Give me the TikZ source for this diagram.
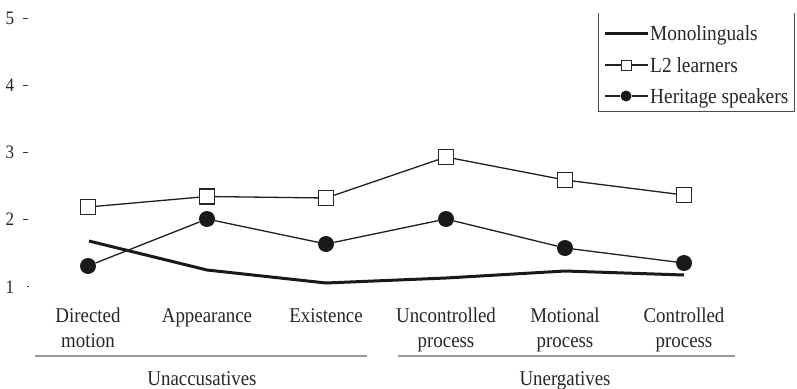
\documentclass[tikz,border=0pt]{standalone}
\usepackage{fontspec}
\setmainfont[FakeStretch=0.9]{Liberation Serif}
\begin{document}
\begin{tikzpicture}[x=1pt,y=-1pt,
  lbl/.style={font=\fontsize{21}{25}\selectfont, text=black!85, inner sep=0pt},
  leg/.style={font=\fontsize{21.5}{25}\selectfont, text=black!85, inner sep=0pt},
  axl/.style={font=\fontsize{19}{22}\selectfont, text=black!85, inner sep=0pt},
  sq/.style={rectangle, draw=black!85, fill=white, line width=1.2pt, minimum size=15pt, inner sep=0pt},
  dot/.style={circle, fill=black!90, minimum size=16pt, inner sep=0pt},
  serline/.style={draw=black!88, line width=1.3pt},
  monoline/.style={draw=black!90, line width=3pt, line join=round},
  tick/.style={draw=black!80, line width=0.8pt},
  bracket/.style={draw=black!40, line width=2pt}
]
\useasboundingbox (0,0) rectangle (797,388);

% y axis ticks and labels
\foreach \v/\yy in {5/18,4/85,3/152,2/219} {
  \draw[tick] (23,\yy) -- (28,\yy);
  \node[axl, anchor=base] (y\v) at (10,\yy+6) {\v};
}
\draw[tick] (27,286) -- (28.5,286);
\node[axl, anchor=base] (y1) at (10,293) {1};

% Monolinguals
\coordinate (m1) at (89,241);
\coordinate (m2) at (207,270);
\coordinate (m3) at (326,283);
\coordinate (m4) at (446,278);
\coordinate (m5) at (565,271);
\coordinate (m6) at (684,275);
\draw[monoline] (m1) -- (m2) -- (m3) -- (m4) -- (m5) -- (m6);

% L2 learners
\node[sq] (l1) at (88,207) {};
\node[sq] (l2) at (207,196.5) {};
\node[sq] (l3) at (326,198) {};
\node[sq] (l4) at (446,157) {};
\node[sq] (l5) at (565,180) {};
\node[sq] (l6) at (684,195) {};
\draw[serline] (l1) -- (l2) -- (l3) -- (l4) -- (l5) -- (l6);

% Heritage speakers
\node[dot] (h1) at (88,266) {};
\node[dot] (h2) at (207,219) {};
\node[dot] (h3) at (326,244) {};
\node[dot] (h4) at (446,219) {};
\node[dot] (h5) at (565,248) {};
\node[dot] (h6) at (684,263) {};
\draw[serline] (h1) -- (h2) -- (h3) -- (h4) -- (h5) -- (h6);

% category labels
\node[lbl, anchor=north, align=center] (c1) at (88,308) {Directed\\motion};
\node[lbl, anchor=north, align=center] (c2) at (207,308) {Appearance};
\node[lbl, anchor=north, align=center] (c3) at (326,308) {Existence};
\node[lbl, anchor=north, align=center] (c4) at (446,308) {Uncontrolled\\process};
\node[lbl, anchor=north, align=center] (c5) at (565,308) {Motional\\process};
\node[lbl, anchor=north, align=center] (c6) at (684,308) {Controlled\\process};

% group brackets
\coordinate (ua) at (35,356);
\coordinate (ub) at (367,356);
\coordinate (ea) at (398,356);
\coordinate (eb) at (735,356);
\draw[bracket] (ua) -- (ub);
\draw[bracket] (ea) -- (eb);
\node[lbl, anchor=base] (gu) at (202,385) {Unaccusatives};
\node[lbl, anchor=base] (ge) at (565,385) {Unergatives};

% legend
\coordinate (lgA) at (598,13);
\coordinate (lgB) at (598,111);
\coordinate (lgC) at (794,111);
\coordinate (lgD) at (794,13);
\draw[draw=black!70, line width=0.8pt] (lgA) -- (lgB) -- (lgC) -- (lgD);

\coordinate (ma) at (605,33);
\coordinate (mb) at (648,33);
\draw[monoline] (ma) -- (mb);
\node[leg, anchor=base west] (tm) at (650,40) {Monolinguals};

\coordinate (la) at (605,65);
\coordinate (lb) at (648,65);
\node[sq, minimum size=10pt, line width=1pt] (lsq) at (626,65) {};
\draw[serline] (la) -- (lsq) -- (lb);
\node[leg, anchor=base west] (tl) at (650,72) {L2 learners};

\coordinate (ha) at (605,96);
\coordinate (hb) at (648,96);
\node[dot, minimum size=11pt] (hdot) at (626,96) {};
\draw[serline] (ha) -- (hdot) -- (hb);
\node[leg, anchor=base west] (th) at (650,103) {Heritage speakers};
\end{tikzpicture}
\end{document}
